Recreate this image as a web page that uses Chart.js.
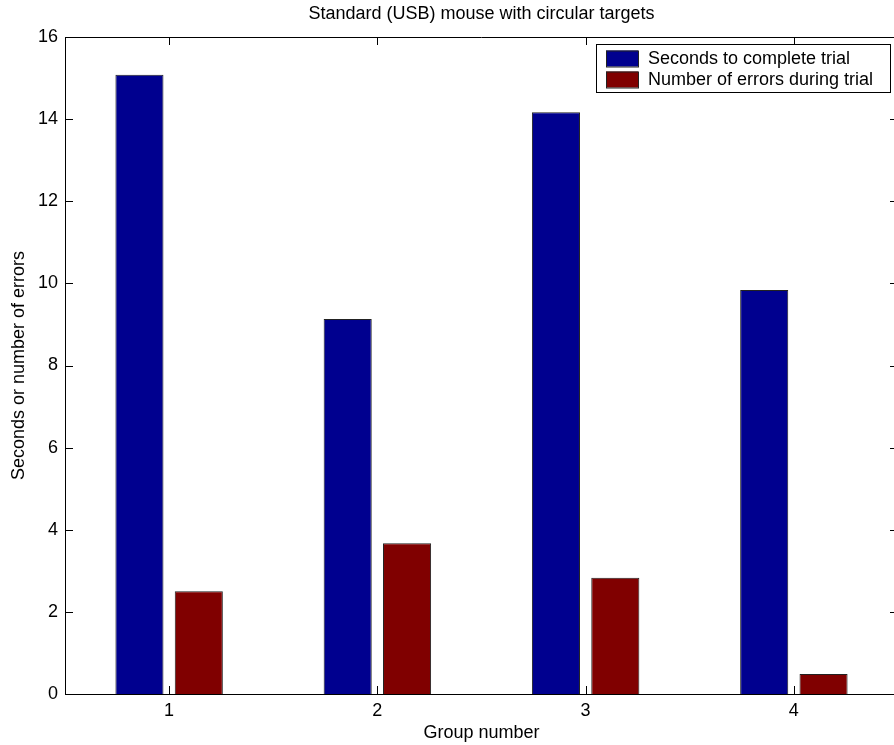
<!DOCTYPE html>
<html>
<head>
<meta charset="utf-8">
<script src="https://cdn.jsdelivr.net/npm/chart.js@4.4.0/dist/chart.umd.min.js"></script>
<style>
    html, body { margin: 0; padding: 0; background: #fff; overflow: hidden; }
    #wrap { width: 900px; height: 745px; position: relative; }
</style>
</head>
<body>
<div id="wrap"><canvas id="barChart"></canvas></div>
<script>
// data
const groups = ['1', '2', '3', '4'];
const secondsToComplete = [15.08, 9.13, 14.17, 9.84];
const numberOfErrors = [2.50, 3.67, 2.83, 0.49];
const seriesLabels = ['Seconds to complete trial', 'Number of errors during trial'];
const yMax = 16;
const yStep = 2;

const FONT = 'Liberation Sans, Arial, Helvetica, sans-serif';

// matlab style box, inward ticks and legend
const matlabAxes = {
    id: 'matlabAxes',
    afterDraw(chart) {
        const ctx = chart.ctx;
        const a = chart.chartArea;
        const xs = chart.scales.x, ys = chart.scales.y;
        ctx.save();
        ctx.strokeStyle = '#000';
        ctx.lineWidth = 1;
        ctx.beginPath();
        ctx.moveTo(a.left + 0.5, a.top + 0.5);
        ctx.lineTo(a.right - 0.5, a.top + 0.5);
        ctx.lineTo(a.right - 0.5, a.bottom);
        ctx.stroke();

        const tl = 8;
        ctx.beginPath();
        ys.ticks.forEach(function (t) {
            const y = Math.round(ys.getPixelForValue(t.value)) + 0.5;
            ctx.moveTo(a.left, y); ctx.lineTo(a.left + tl, y);
            ctx.moveTo(a.right, y); ctx.lineTo(a.right - tl, y);
        });
        xs.ticks.forEach(function (t, i) {
            const x = Math.round(xs.getPixelForTick(i)) + 0.5;
            ctx.moveTo(x, a.bottom); ctx.lineTo(x, a.bottom - tl);
            ctx.moveTo(x, a.top); ctx.lineTo(x, a.top + tl);
        });
        ctx.stroke();

        // legend
        const lx = 596, ly = 44, lw = 294, lh = 48;
        ctx.fillStyle = '#fff';
        ctx.fillRect(lx, ly, lw, lh);
        ctx.strokeRect(lx + 0.5, ly + 0.5, lw, lh);
        ctx.font = '18px ' + FONT;
        ctx.textBaseline = 'middle';
        ctx.textAlign = 'left';
        chart.data.datasets.forEach(function (ds, i) {
            const cy = ly + 14.5 + i * 21;
            ctx.fillStyle = ds.backgroundColor;
            ctx.fillRect(606, cy - 8, 32, 16);
            ctx.strokeStyle = '#222';
            ctx.strokeRect(606.5, cy - 7.5, 32, 16);
            ctx.fillStyle = '#000';
            ctx.fillText(ds.label, 648, cy + 1);
        });
        ctx.restore();
    }
};

document.addEventListener('DOMContentLoaded', function () {
    const ctx = document.getElementById('barChart').getContext('2d');
    const barChart = new Chart(ctx, {
        type: 'bar',
        data: {
            labels: groups,
            datasets: [{
                label: seriesLabels[0],
                data: secondsToComplete,
                backgroundColor: '#00008f',
                borderColor: '#222',
                borderWidth: 1,
                categoryPercentage: 0.57,
                barPercentage: 0.81
            }, {
                label: seriesLabels[1],
                data: numberOfErrors,
                backgroundColor: '#800000',
                borderColor: '#222',
                borderWidth: 1,
                categoryPercentage: 0.57,
                barPercentage: 0.81
            }]
        },
        options: {
            responsive: true,
            maintainAspectRatio: false,
            animation: false,
            layout: { padding: { left: 0, right: 2, top: 0, bottom: 0 } },
            scales: {
                x: {
                    grid: { display: false, drawTicks: false },
                    border: { display: true, color: '#000', width: 1 },
                    ticks: { color: '#000', font: { family: FONT, size: 18 }, padding: 6, maxRotation: 0 },
                    title: {
                        display: true, text: 'Group number', color: '#000',
                        font: { family: FONT, size: 18 }, padding: { top: 0, bottom: 1 }
                    },
                    afterFit: function (scale) { scale.height = 51; }
                },
                y: {
                    min: 0,
                    max: yMax,
                    grid: { display: false, drawTicks: false },
                    border: { display: true, color: '#000', width: 1 },
                    ticks: { stepSize: yStep, color: '#000', font: { family: FONT, size: 18 }, padding: 7 },
                    title: {
                        display: true, text: 'Seconds or number of errors', color: '#000',
                        font: { family: FONT, size: 18 }, padding: { top: 8, bottom: 0 }
                    },
                    afterFit: function (scale) { scale.width = 65; }
                }
            },
            plugins: {
                legend: { display: false },
                tooltip: { enabled: false },
                title: {
                    display: true,
                    text: 'Standard (USB) mouse with circular targets',
                    color: '#000',
                    fullSize: false,
                    font: { family: FONT, size: 18, weight: 'normal' },
                    padding: { top: 3, bottom: 12.4 }
                }
            }
        },
        plugins: [matlabAxes]
    });
});
</script>
</body>
</html>
